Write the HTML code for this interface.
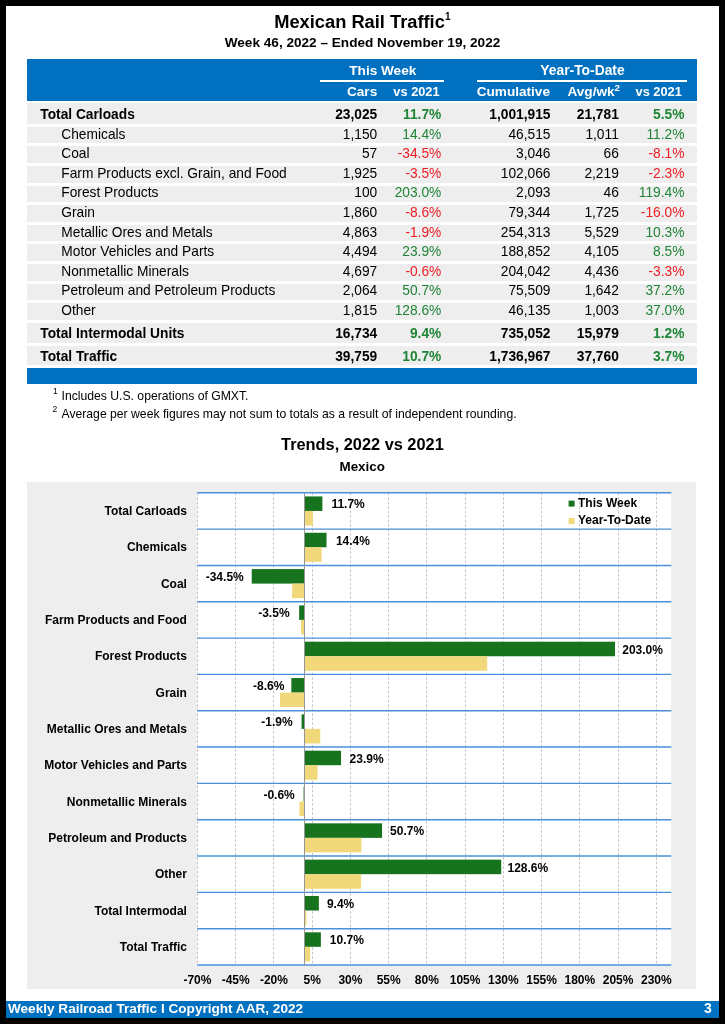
<!DOCTYPE html>
<html><head><meta charset="utf-8"><title>Mexican Rail Traffic</title>
<style>
*{margin:0;padding:0;box-sizing:border-box;}
html,body{width:725px;height:1024px;overflow:hidden;background:#000;}
body{font-family:"Liberation Sans",sans-serif;}
#pg{position:absolute;left:6px;top:6px;width:713px;height:1012px;background:#fff;}
.t{position:absolute;line-height:1;white-space:nowrap;}
#wrap{position:absolute;left:0;top:0;width:725px;height:1024px;will-change:transform;}
.r{position:absolute;}
.ch{position:absolute;left:0;top:0;}
sup.s1{font-size:10px;position:relative;top:-1px;vertical-align:top;}
sup.s2{font-size:9.8px;position:relative;top:-2px;vertical-align:top;}
</style></head><body>
<div id="pg"></div>
<div id="wrap">
<div class="t" style="left:-37.70px;width:800px;text-align:center;top:13.00px;font-size:18.3px;font-weight:bold;color:#000;">Mexican Rail Traffic<sup class="s1">1</sup></div>
<div class="t" style="left:-37.50px;width:800px;text-align:center;top:36.00px;font-size:13.6px;font-weight:bold;color:#000;">Week 46, 2022 &ndash; Ended November 19, 2022</div>
<div class="r" style="left:27.00px;top:58.80px;width:669.80px;height:42.00px;background:#0070c0;"></div>
<div class="t" style="left:-17.20px;width:800px;text-align:center;top:64.00px;font-size:13.6px;font-weight:bold;color:#fff;">This Week</div>
<div class="r" style="left:319.90px;top:80.00px;width:124.20px;height:2.00px;background:#fff;"></div>
<div class="t" style="left:182.50px;width:800px;text-align:center;top:64.00px;font-size:13.85px;font-weight:bold;color:#fff;">Year-To-Date</div>
<div class="r" style="left:476.60px;top:80.00px;width:210.20px;height:2.00px;background:#fff;"></div>
<div class="t" style="left:-222.80px;width:600px;text-align:right;top:85.00px;font-size:13.6px;font-weight:bold;color:#fff;">Cars</div>
<div class="t" style="left:-160.40px;width:600px;text-align:right;top:86.00px;font-size:12.8px;font-weight:bold;color:#fff;">vs 2021</div>
<div class="t" style="left:-50.00px;width:600px;text-align:right;top:85.00px;font-size:13.6px;font-weight:bold;color:#fff;">Cumulative</div>
<div class="t" style="left:20.00px;width:600px;text-align:right;top:85.00px;font-size:13.6px;font-weight:bold;color:#fff;">Avg/wk<sup class="s2">2</sup></div>
<div class="t" style="left:81.80px;width:600px;text-align:right;top:86.00px;font-size:12.8px;font-weight:bold;color:#fff;">vs 2021</div>
<div class="r" style="left:27.00px;top:103.00px;width:669.80px;height:20.80px;background:#eeeeee;"></div>
<div class="t" style="left:40.30px;top:108.00px;font-size:13.75px;font-weight:bold;color:#000;">Total Carloads</div>
<div class="t" style="left:-222.80px;width:600px;text-align:right;top:108.00px;font-size:13.75px;font-weight:bold;color:#000;">23,025</div>
<div class="t" style="left:-158.70px;width:600px;text-align:right;top:108.00px;font-size:13.75px;font-weight:bold;color:#1f8536;">11.7%</div>
<div class="t" style="left:-49.50px;width:600px;text-align:right;top:108.00px;font-size:13.75px;font-weight:bold;color:#000;">1,001,915</div>
<div class="t" style="left:18.80px;width:600px;text-align:right;top:108.00px;font-size:13.75px;font-weight:bold;color:#000;">21,781</div>
<div class="t" style="left:84.40px;width:600px;text-align:right;top:108.00px;font-size:13.75px;font-weight:bold;color:#1f8536;">5.5%</div>
<div class="r" style="left:27.00px;top:126.80px;width:669.80px;height:16.70px;background:#eeeeee;"></div>
<div class="t" style="left:61.30px;top:128.00px;font-size:13.75px;color:#000;">Chemicals</div>
<div class="t" style="left:-222.80px;width:600px;text-align:right;top:128.00px;font-size:13.75px;color:#000;">1,150</div>
<div class="t" style="left:-158.70px;width:600px;text-align:right;top:128.00px;font-size:13.75px;color:#1f8536;">14.4%</div>
<div class="t" style="left:-49.50px;width:600px;text-align:right;top:128.00px;font-size:13.75px;color:#000;">46,515</div>
<div class="t" style="left:18.80px;width:600px;text-align:right;top:128.00px;font-size:13.75px;color:#000;">1,011</div>
<div class="t" style="left:84.40px;width:600px;text-align:right;top:128.00px;font-size:13.75px;color:#1f8536;">11.2%</div>
<div class="r" style="left:27.00px;top:146.40px;width:669.80px;height:16.70px;background:#eeeeee;"></div>
<div class="t" style="left:61.30px;top:147.00px;font-size:13.75px;color:#000;">Coal</div>
<div class="t" style="left:-222.80px;width:600px;text-align:right;top:147.00px;font-size:13.75px;color:#000;">57</div>
<div class="t" style="left:-158.70px;width:600px;text-align:right;top:147.00px;font-size:13.75px;color:#ee1c24;">-34.5%</div>
<div class="t" style="left:-49.50px;width:600px;text-align:right;top:147.00px;font-size:13.75px;color:#000;">3,046</div>
<div class="t" style="left:18.80px;width:600px;text-align:right;top:147.00px;font-size:13.75px;color:#000;">66</div>
<div class="t" style="left:84.40px;width:600px;text-align:right;top:147.00px;font-size:13.75px;color:#ee1c24;">-8.1%</div>
<div class="r" style="left:27.00px;top:166.00px;width:669.80px;height:16.70px;background:#eeeeee;"></div>
<div class="t" style="left:61.30px;top:167.00px;font-size:13.75px;color:#000;">Farm Products excl. Grain, and Food</div>
<div class="t" style="left:-222.80px;width:600px;text-align:right;top:167.00px;font-size:13.75px;color:#000;">1,925</div>
<div class="t" style="left:-158.70px;width:600px;text-align:right;top:167.00px;font-size:13.75px;color:#ee1c24;">-3.5%</div>
<div class="t" style="left:-49.50px;width:600px;text-align:right;top:167.00px;font-size:13.75px;color:#000;">102,066</div>
<div class="t" style="left:18.80px;width:600px;text-align:right;top:167.00px;font-size:13.75px;color:#000;">2,219</div>
<div class="t" style="left:84.40px;width:600px;text-align:right;top:167.00px;font-size:13.75px;color:#ee1c24;">-2.3%</div>
<div class="r" style="left:27.00px;top:185.60px;width:669.80px;height:16.70px;background:#eeeeee;"></div>
<div class="t" style="left:61.30px;top:186.00px;font-size:13.75px;color:#000;">Forest Products</div>
<div class="t" style="left:-222.80px;width:600px;text-align:right;top:186.00px;font-size:13.75px;color:#000;">100</div>
<div class="t" style="left:-158.70px;width:600px;text-align:right;top:186.00px;font-size:13.75px;color:#1f8536;">203.0%</div>
<div class="t" style="left:-49.50px;width:600px;text-align:right;top:186.00px;font-size:13.75px;color:#000;">2,093</div>
<div class="t" style="left:18.80px;width:600px;text-align:right;top:186.00px;font-size:13.75px;color:#000;">46</div>
<div class="t" style="left:84.40px;width:600px;text-align:right;top:186.00px;font-size:13.75px;color:#1f8536;">119.4%</div>
<div class="r" style="left:27.00px;top:205.20px;width:669.80px;height:16.70px;background:#eeeeee;"></div>
<div class="t" style="left:61.30px;top:206.00px;font-size:13.75px;color:#000;">Grain</div>
<div class="t" style="left:-222.80px;width:600px;text-align:right;top:206.00px;font-size:13.75px;color:#000;">1,860</div>
<div class="t" style="left:-158.70px;width:600px;text-align:right;top:206.00px;font-size:13.75px;color:#ee1c24;">-8.6%</div>
<div class="t" style="left:-49.50px;width:600px;text-align:right;top:206.00px;font-size:13.75px;color:#000;">79,344</div>
<div class="t" style="left:18.80px;width:600px;text-align:right;top:206.00px;font-size:13.75px;color:#000;">1,725</div>
<div class="t" style="left:84.40px;width:600px;text-align:right;top:206.00px;font-size:13.75px;color:#ee1c24;">-16.0%</div>
<div class="r" style="left:27.00px;top:224.80px;width:669.80px;height:16.70px;background:#eeeeee;"></div>
<div class="t" style="left:61.30px;top:226.00px;font-size:13.75px;color:#000;">Metallic Ores and Metals</div>
<div class="t" style="left:-222.80px;width:600px;text-align:right;top:226.00px;font-size:13.75px;color:#000;">4,863</div>
<div class="t" style="left:-158.70px;width:600px;text-align:right;top:226.00px;font-size:13.75px;color:#ee1c24;">-1.9%</div>
<div class="t" style="left:-49.50px;width:600px;text-align:right;top:226.00px;font-size:13.75px;color:#000;">254,313</div>
<div class="t" style="left:18.80px;width:600px;text-align:right;top:226.00px;font-size:13.75px;color:#000;">5,529</div>
<div class="t" style="left:84.40px;width:600px;text-align:right;top:226.00px;font-size:13.75px;color:#1f8536;">10.3%</div>
<div class="r" style="left:27.00px;top:244.40px;width:669.80px;height:16.70px;background:#eeeeee;"></div>
<div class="t" style="left:61.30px;top:245.00px;font-size:13.75px;color:#000;">Motor Vehicles and Parts</div>
<div class="t" style="left:-222.80px;width:600px;text-align:right;top:245.00px;font-size:13.75px;color:#000;">4,494</div>
<div class="t" style="left:-158.70px;width:600px;text-align:right;top:245.00px;font-size:13.75px;color:#1f8536;">23.9%</div>
<div class="t" style="left:-49.50px;width:600px;text-align:right;top:245.00px;font-size:13.75px;color:#000;">188,852</div>
<div class="t" style="left:18.80px;width:600px;text-align:right;top:245.00px;font-size:13.75px;color:#000;">4,105</div>
<div class="t" style="left:84.40px;width:600px;text-align:right;top:245.00px;font-size:13.75px;color:#1f8536;">8.5%</div>
<div class="r" style="left:27.00px;top:264.00px;width:669.80px;height:16.70px;background:#eeeeee;"></div>
<div class="t" style="left:61.30px;top:265.00px;font-size:13.75px;color:#000;">Nonmetallic Minerals</div>
<div class="t" style="left:-222.80px;width:600px;text-align:right;top:265.00px;font-size:13.75px;color:#000;">4,697</div>
<div class="t" style="left:-158.70px;width:600px;text-align:right;top:265.00px;font-size:13.75px;color:#ee1c24;">-0.6%</div>
<div class="t" style="left:-49.50px;width:600px;text-align:right;top:265.00px;font-size:13.75px;color:#000;">204,042</div>
<div class="t" style="left:18.80px;width:600px;text-align:right;top:265.00px;font-size:13.75px;color:#000;">4,436</div>
<div class="t" style="left:84.40px;width:600px;text-align:right;top:265.00px;font-size:13.75px;color:#ee1c24;">-3.3%</div>
<div class="r" style="left:27.00px;top:283.60px;width:669.80px;height:16.70px;background:#eeeeee;"></div>
<div class="t" style="left:61.30px;top:284.00px;font-size:13.75px;color:#000;">Petroleum and Petroleum Products</div>
<div class="t" style="left:-222.80px;width:600px;text-align:right;top:284.00px;font-size:13.75px;color:#000;">2,064</div>
<div class="t" style="left:-158.70px;width:600px;text-align:right;top:284.00px;font-size:13.75px;color:#1f8536;">50.7%</div>
<div class="t" style="left:-49.50px;width:600px;text-align:right;top:284.00px;font-size:13.75px;color:#000;">75,509</div>
<div class="t" style="left:18.80px;width:600px;text-align:right;top:284.00px;font-size:13.75px;color:#000;">1,642</div>
<div class="t" style="left:84.40px;width:600px;text-align:right;top:284.00px;font-size:13.75px;color:#1f8536;">37.2%</div>
<div class="r" style="left:27.00px;top:303.20px;width:669.80px;height:16.70px;background:#eeeeee;"></div>
<div class="t" style="left:61.30px;top:304.00px;font-size:13.75px;color:#000;">Other</div>
<div class="t" style="left:-222.80px;width:600px;text-align:right;top:304.00px;font-size:13.75px;color:#000;">1,815</div>
<div class="t" style="left:-158.70px;width:600px;text-align:right;top:304.00px;font-size:13.75px;color:#1f8536;">128.6%</div>
<div class="t" style="left:-49.50px;width:600px;text-align:right;top:304.00px;font-size:13.75px;color:#000;">46,135</div>
<div class="t" style="left:18.80px;width:600px;text-align:right;top:304.00px;font-size:13.75px;color:#000;">1,003</div>
<div class="t" style="left:84.40px;width:600px;text-align:right;top:304.00px;font-size:13.75px;color:#1f8536;">37.0%</div>
<div class="r" style="left:27.00px;top:322.80px;width:669.80px;height:20.00px;background:#eeeeee;"></div>
<div class="t" style="left:40.30px;top:327.00px;font-size:13.75px;font-weight:bold;color:#000;">Total Intermodal Units</div>
<div class="t" style="left:-222.80px;width:600px;text-align:right;top:327.00px;font-size:13.75px;font-weight:bold;color:#000;">16,734</div>
<div class="t" style="left:-158.70px;width:600px;text-align:right;top:327.00px;font-size:13.75px;font-weight:bold;color:#1f8536;">9.4%</div>
<div class="t" style="left:-49.50px;width:600px;text-align:right;top:327.00px;font-size:13.75px;font-weight:bold;color:#000;">735,052</div>
<div class="t" style="left:18.80px;width:600px;text-align:right;top:327.00px;font-size:13.75px;font-weight:bold;color:#000;">15,979</div>
<div class="t" style="left:84.40px;width:600px;text-align:right;top:327.00px;font-size:13.75px;font-weight:bold;color:#1f8536;">1.2%</div>
<div class="r" style="left:27.00px;top:345.50px;width:669.80px;height:19.80px;background:#eeeeee;"></div>
<div class="t" style="left:40.30px;top:350.00px;font-size:13.75px;font-weight:bold;color:#000;">Total Traffic</div>
<div class="t" style="left:-222.80px;width:600px;text-align:right;top:350.00px;font-size:13.75px;font-weight:bold;color:#000;">39,759</div>
<div class="t" style="left:-158.70px;width:600px;text-align:right;top:350.00px;font-size:13.75px;font-weight:bold;color:#1f8536;">10.7%</div>
<div class="t" style="left:-49.50px;width:600px;text-align:right;top:350.00px;font-size:13.75px;font-weight:bold;color:#000;">1,736,967</div>
<div class="t" style="left:18.80px;width:600px;text-align:right;top:350.00px;font-size:13.75px;font-weight:bold;color:#000;">37,760</div>
<div class="t" style="left:84.40px;width:600px;text-align:right;top:350.00px;font-size:13.75px;font-weight:bold;color:#1f8536;">3.7%</div>
<div class="r" style="left:27.00px;top:367.90px;width:669.80px;height:15.70px;background:#0070c0;"></div>
<div class="t" style="left:53.00px;top:387.00px;font-size:8.5px;color:#000;">1</div>
<div class="t" style="left:61.50px;top:390.00px;font-size:12.2px;color:#000;">Includes U.S. operations of GMXT.</div>
<div class="t" style="left:52.60px;top:405.00px;font-size:8.5px;color:#000;">2</div>
<div class="t" style="left:61.50px;top:408.00px;font-size:12.2px;color:#000;">Average per week figures may not sum to totals as a result of independent rounding.</div>
<div class="t" style="left:-37.60px;width:800px;text-align:center;top:436.00px;font-size:16.35px;font-weight:bold;color:#000;">Trends, 2022 vs 2021</div>
<div class="t" style="left:-37.80px;width:800px;text-align:center;top:460.00px;font-size:13.4px;font-weight:bold;color:#000;">Mexico</div>
<div class="r" style="left:26.50px;top:482.00px;width:669.50px;height:507.20px;background:#eeeeee;"></div>
<div class="r" style="left:197.20px;top:492.80px;width:474.10px;height:472.20px;background:#ffffff;"></div>
<svg class="ch" width="725" height="1024" viewBox="0 0 725 1024"><line x1="197.50" y1="492.8" x2="197.50" y2="965.0" stroke="#c4c4c4" stroke-width="1" stroke-dasharray="2.5,2"/><line x1="235.50" y1="492.8" x2="235.50" y2="965.0" stroke="#c4c4c4" stroke-width="1" stroke-dasharray="2.5,2"/><line x1="273.50" y1="492.8" x2="273.50" y2="965.0" stroke="#c4c4c4" stroke-width="1" stroke-dasharray="2.5,2"/><line x1="312.50" y1="492.8" x2="312.50" y2="965.0" stroke="#c4c4c4" stroke-width="1" stroke-dasharray="2.5,2"/><line x1="350.50" y1="492.8" x2="350.50" y2="965.0" stroke="#c4c4c4" stroke-width="1" stroke-dasharray="2.5,2"/><line x1="388.50" y1="492.8" x2="388.50" y2="965.0" stroke="#c4c4c4" stroke-width="1" stroke-dasharray="2.5,2"/><line x1="426.50" y1="492.8" x2="426.50" y2="965.0" stroke="#c4c4c4" stroke-width="1" stroke-dasharray="2.5,2"/><line x1="465.50" y1="492.8" x2="465.50" y2="965.0" stroke="#c4c4c4" stroke-width="1" stroke-dasharray="2.5,2"/><line x1="503.50" y1="492.8" x2="503.50" y2="965.0" stroke="#c4c4c4" stroke-width="1" stroke-dasharray="2.5,2"/><line x1="541.50" y1="492.8" x2="541.50" y2="965.0" stroke="#c4c4c4" stroke-width="1" stroke-dasharray="2.5,2"/><line x1="579.50" y1="492.8" x2="579.50" y2="965.0" stroke="#c4c4c4" stroke-width="1" stroke-dasharray="2.5,2"/><line x1="618.50" y1="492.8" x2="618.50" y2="965.0" stroke="#c4c4c4" stroke-width="1" stroke-dasharray="2.5,2"/><line x1="656.50" y1="492.8" x2="656.50" y2="965.0" stroke="#c4c4c4" stroke-width="1" stroke-dasharray="2.5,2"/><rect x="304.50" y="496.43" width="17.90" height="14.53" fill="#18731f"/><rect x="304.50" y="510.96" width="8.41" height="14.53" fill="#f1d87a"/><rect x="304.50" y="532.76" width="22.03" height="14.53" fill="#18731f"/><rect x="304.50" y="547.28" width="17.13" height="14.53" fill="#f1d87a"/><rect x="251.73" y="569.08" width="52.77" height="14.53" fill="#18731f"/><rect x="292.11" y="583.61" width="12.39" height="14.53" fill="#f1d87a"/><rect x="299.15" y="605.40" width="5.35" height="14.53" fill="#18731f"/><rect x="300.98" y="619.93" width="3.52" height="14.53" fill="#f1d87a"/><rect x="304.50" y="641.72" width="310.53" height="14.53" fill="#18731f"/><rect x="304.50" y="656.25" width="182.65" height="14.53" fill="#f1d87a"/><rect x="291.34" y="678.05" width="13.16" height="14.53" fill="#18731f"/><rect x="280.02" y="692.58" width="24.48" height="14.53" fill="#f1d87a"/><rect x="301.59" y="714.37" width="2.91" height="14.53" fill="#18731f"/><rect x="304.50" y="728.90" width="15.76" height="14.53" fill="#f1d87a"/><rect x="304.50" y="750.69" width="36.56" height="14.53" fill="#18731f"/><rect x="304.50" y="765.22" width="13.00" height="14.53" fill="#f1d87a"/><rect x="303.58" y="787.02" width="0.92" height="14.53" fill="#18731f"/><rect x="299.45" y="801.55" width="5.05" height="14.53" fill="#f1d87a"/><rect x="304.50" y="823.34" width="77.56" height="14.53" fill="#18731f"/><rect x="304.50" y="837.87" width="56.90" height="14.53" fill="#f1d87a"/><rect x="304.50" y="859.66" width="196.72" height="14.53" fill="#18731f"/><rect x="304.50" y="874.19" width="56.60" height="14.53" fill="#f1d87a"/><rect x="304.50" y="895.99" width="14.38" height="14.53" fill="#18731f"/><rect x="304.50" y="910.52" width="1.84" height="14.53" fill="#f1d87a"/><rect x="304.50" y="932.31" width="16.37" height="14.53" fill="#18731f"/><rect x="304.50" y="946.84" width="5.66" height="14.53" fill="#f1d87a"/><line x1="197.2" y1="492.80" x2="671.3" y2="492.80" stroke="#4a90d8" stroke-width="1.4"/><line x1="197.2" y1="529.12" x2="671.3" y2="529.12" stroke="#4a90d8" stroke-width="1.4"/><line x1="197.2" y1="565.45" x2="671.3" y2="565.45" stroke="#4a90d8" stroke-width="1.4"/><line x1="197.2" y1="601.77" x2="671.3" y2="601.77" stroke="#4a90d8" stroke-width="1.4"/><line x1="197.2" y1="638.09" x2="671.3" y2="638.09" stroke="#4a90d8" stroke-width="1.4"/><line x1="197.2" y1="674.42" x2="671.3" y2="674.42" stroke="#4a90d8" stroke-width="1.4"/><line x1="197.2" y1="710.74" x2="671.3" y2="710.74" stroke="#4a90d8" stroke-width="1.4"/><line x1="197.2" y1="747.06" x2="671.3" y2="747.06" stroke="#4a90d8" stroke-width="1.4"/><line x1="197.2" y1="783.38" x2="671.3" y2="783.38" stroke="#4a90d8" stroke-width="1.4"/><line x1="197.2" y1="819.71" x2="671.3" y2="819.71" stroke="#4a90d8" stroke-width="1.4"/><line x1="197.2" y1="856.03" x2="671.3" y2="856.03" stroke="#4a90d8" stroke-width="1.4"/><line x1="197.2" y1="892.35" x2="671.3" y2="892.35" stroke="#4a90d8" stroke-width="1.4"/><line x1="197.2" y1="928.68" x2="671.3" y2="928.68" stroke="#4a90d8" stroke-width="1.4"/><line x1="197.2" y1="965.00" x2="671.3" y2="965.00" stroke="#4a90d8" stroke-width="1.4"/><line x1="304.50" y1="492.8" x2="304.50" y2="966.0" stroke="#959595" stroke-width="1"/><rect x="568.6" y="500.6" width="6" height="6" fill="#18731f"/><rect x="568.6" y="518" width="6" height="6" fill="#f1d87a"/></svg>
<div class="t" style="left:-413.10px;width:600px;text-align:right;top:505.00px;font-size:12px;font-weight:bold;color:#000;">Total Carloads</div>
<div class="t" style="left:331.40px;top:498.00px;font-size:12px;font-weight:bold;color:#000;">11.7%</div>
<div class="t" style="left:-413.10px;width:600px;text-align:right;top:541.00px;font-size:12px;font-weight:bold;color:#000;">Chemicals</div>
<div class="t" style="left:335.93px;top:535.00px;font-size:12px;font-weight:bold;color:#000;">14.4%</div>
<div class="t" style="left:-413.10px;width:600px;text-align:right;top:578.00px;font-size:12px;font-weight:bold;color:#000;">Coal</div>
<div class="t" style="left:-356.27px;width:600px;text-align:right;top:571.00px;font-size:12px;font-weight:bold;color:#000;">-34.5%</div>
<div class="t" style="left:-413.10px;width:600px;text-align:right;top:614.00px;font-size:12px;font-weight:bold;color:#000;">Farm Products and Food</div>
<div class="t" style="left:-310.45px;width:600px;text-align:right;top:607.00px;font-size:12px;font-weight:bold;color:#000;">-3.5%</div>
<div class="t" style="left:-413.10px;width:600px;text-align:right;top:650.00px;font-size:12px;font-weight:bold;color:#000;">Forest Products</div>
<div class="t" style="left:622.23px;top:644.00px;font-size:12px;font-weight:bold;color:#000;">203.0%</div>
<div class="t" style="left:-413.10px;width:600px;text-align:right;top:687.00px;font-size:12px;font-weight:bold;color:#000;">Grain</div>
<div class="t" style="left:-315.66px;width:600px;text-align:right;top:680.00px;font-size:12px;font-weight:bold;color:#000;">-8.6%</div>
<div class="t" style="left:-413.10px;width:600px;text-align:right;top:723.00px;font-size:12px;font-weight:bold;color:#000;">Metallic Ores and Metals</div>
<div class="t" style="left:-307.41px;width:600px;text-align:right;top:716.00px;font-size:12px;font-weight:bold;color:#000;">-1.9%</div>
<div class="t" style="left:-413.10px;width:600px;text-align:right;top:759.00px;font-size:12px;font-weight:bold;color:#000;">Motor Vehicles and Parts</div>
<div class="t" style="left:349.56px;top:753.00px;font-size:12px;font-weight:bold;color:#000;">23.9%</div>
<div class="t" style="left:-413.10px;width:600px;text-align:right;top:796.00px;font-size:12px;font-weight:bold;color:#000;">Nonmetallic Minerals</div>
<div class="t" style="left:-305.22px;width:600px;text-align:right;top:789.00px;font-size:12px;font-weight:bold;color:#000;">-0.6%</div>
<div class="t" style="left:-413.10px;width:600px;text-align:right;top:832.00px;font-size:12px;font-weight:bold;color:#000;">Petroleum and Products</div>
<div class="t" style="left:390.06px;top:825.00px;font-size:12px;font-weight:bold;color:#000;">50.7%</div>
<div class="t" style="left:-413.10px;width:600px;text-align:right;top:868.00px;font-size:12px;font-weight:bold;color:#000;">Other</div>
<div class="t" style="left:507.52px;top:862.00px;font-size:12px;font-weight:bold;color:#000;">128.6%</div>
<div class="t" style="left:-413.10px;width:600px;text-align:right;top:905.00px;font-size:12px;font-weight:bold;color:#000;">Total Intermodal</div>
<div class="t" style="left:326.88px;top:898.00px;font-size:12px;font-weight:bold;color:#000;">9.4%</div>
<div class="t" style="left:-413.10px;width:600px;text-align:right;top:941.00px;font-size:12px;font-weight:bold;color:#000;">Total Traffic</div>
<div class="t" style="left:329.87px;top:934.00px;font-size:12px;font-weight:bold;color:#000;">10.7%</div>
<div class="t" style="left:578.00px;top:497.00px;font-size:12px;font-weight:bold;color:#000;">This Week</div>
<div class="t" style="left:578.00px;top:514.00px;font-size:12px;font-weight:bold;color:#000;">Year-To-Date</div>
<div class="t" style="left:-202.58px;width:800px;text-align:center;top:974.00px;font-size:12px;font-weight:bold;color:#000;">-70%</div>
<div class="t" style="left:-164.34px;width:800px;text-align:center;top:974.00px;font-size:12px;font-weight:bold;color:#000;">-45%</div>
<div class="t" style="left:-126.09px;width:800px;text-align:center;top:974.00px;font-size:12px;font-weight:bold;color:#000;">-20%</div>
<div class="t" style="left:-87.85px;width:800px;text-align:center;top:974.00px;font-size:12px;font-weight:bold;color:#000;">5%</div>
<div class="t" style="left:-49.61px;width:800px;text-align:center;top:974.00px;font-size:12px;font-weight:bold;color:#000;">30%</div>
<div class="t" style="left:-11.37px;width:800px;text-align:center;top:974.00px;font-size:12px;font-weight:bold;color:#000;">55%</div>
<div class="t" style="left:26.88px;width:800px;text-align:center;top:974.00px;font-size:12px;font-weight:bold;color:#000;">80%</div>
<div class="t" style="left:65.12px;width:800px;text-align:center;top:974.00px;font-size:12px;font-weight:bold;color:#000;">105%</div>
<div class="t" style="left:103.36px;width:800px;text-align:center;top:974.00px;font-size:12px;font-weight:bold;color:#000;">130%</div>
<div class="t" style="left:141.60px;width:800px;text-align:center;top:974.00px;font-size:12px;font-weight:bold;color:#000;">155%</div>
<div class="t" style="left:179.85px;width:800px;text-align:center;top:974.00px;font-size:12px;font-weight:bold;color:#000;">180%</div>
<div class="t" style="left:218.09px;width:800px;text-align:center;top:974.00px;font-size:12px;font-weight:bold;color:#000;">205%</div>
<div class="t" style="left:256.33px;width:800px;text-align:center;top:974.00px;font-size:12px;font-weight:bold;color:#000;">230%</div>
<div class="r" style="left:6.00px;top:1001.20px;width:713.20px;height:16.60px;background:#0070c0;"></div>
<div class="t" style="left:8.00px;top:1002.00px;font-size:13.58px;font-weight:bold;color:#fff;">Weekly Railroad Traffic I Copyright AAR, 2022</div>
<div class="t" style="left:111.90px;width:600px;text-align:right;top:1001.00px;font-size:14px;font-weight:bold;color:#fff;">3</div>
</div>
</body></html>
